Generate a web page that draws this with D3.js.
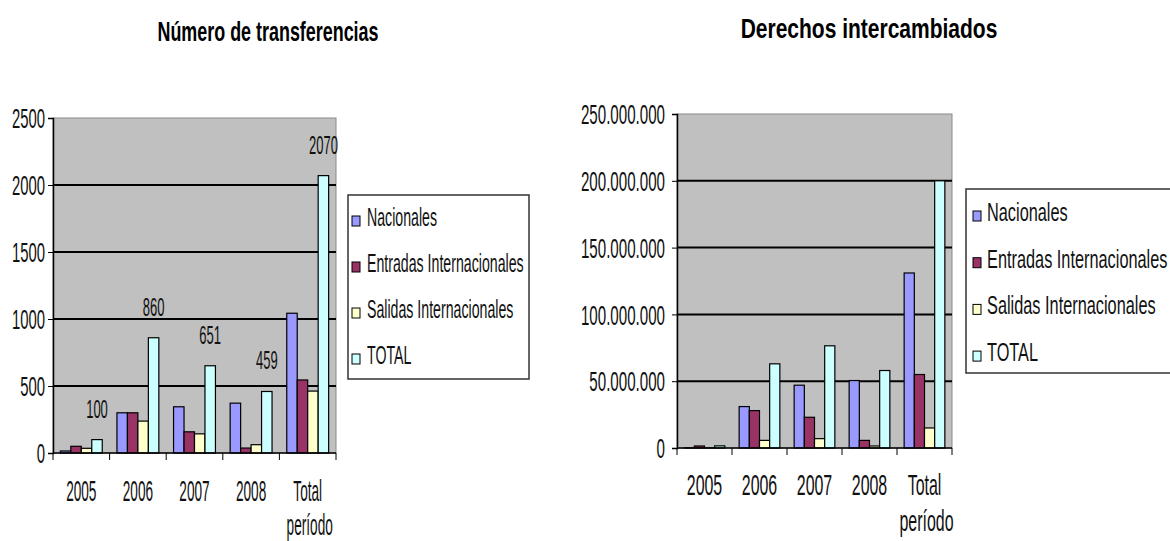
<!DOCTYPE html>
<html lang="es">
<head>
<meta charset="UTF-8">
<title>Transferencias</title>
<style>
  body { margin: 0; background: #fff; }
  text { font-family: "Liberation Sans", Arial, sans-serif; }
</style>
</head>
<body>
<script src="https://cdn.jsdelivr.net/npm/d3@7"></script>
<script>
// categorias y series
var categorias = ["2005", "2006", "2007", "2008", "Total período"];
var series = ["Nacionales", "Entradas Internacionales", "Salidas Internacionales", "TOTAL"];
var colores = ["#9999ff", "#993366", "#ffffcc", "#ccffff"];

// Número de transferencias
var nacionales1 = [15, 300, 345, 372, 1043];
var entradas1 = [50, 300, 158, 37, 545];
var salidas1 = [35, 238, 143, 62, 462];
var total1 = [100, 860, 651, 459, 2070];
var ticks1 = [0, 500, 1000, 1500, 2000, 2500];

// Derechos intercambiados
var nacionales2 = [100000, 31000000, 47000000, 50500000, 131000000];
var entradas2 = [1500000, 28000000, 23000000, 5700000, 55000000];
var salidas2 = [100000, 5700000, 7000000, 1500000, 15000000];
var total2 = [1600000, 63000000, 76500000, 58000000, 200000000];
var ticks2 = [0, 50000000, 100000000, 150000000, 200000000, 250000000];

var svg = d3.select("body").append("svg")
  .attr("width", 1170).attr("height", 541);

var fmtMiles = function(d) {
  return d3.format(",")(d).replace(/,/g, ".");
};

// texto estrechado (la fuente original es alta y estrecha)
function texto(padre, x, y, txt, size, sx, anchor) {
  return padre.append("text")
    .attr("transform", "translate(" + x + "," + y + ") scale(" + sx + ",1)")
    .attr("text-anchor", anchor || "start")
    .attr("font-size", size).attr("fill", "#111")
    .text(txt);
}

function grafico(cfg) {
  var g = svg.append("g");
  var x = d3.scaleBand().domain(categorias).range([cfg.x0, cfg.x1]).paddingInner(0.26).paddingOuter(0.13);
  var xs = d3.scaleBand().domain(series).range([0, x.bandwidth()]);
  var y = d3.scaleLinear().domain([0, cfg.max]).range([cfg.y0, cfg.y1]);
  var bordes = d3.scaleBand().domain(categorias).range([cfg.x0, cfg.x1]);

  // titulo
  texto(g, cfg.tx, cfg.ty, cfg.titulo, 28, cfg.tsx, "middle").attr("font-weight", "bold").attr("fill", "#000");

  // fondo
  g.append("rect").attr("x", cfg.x0).attr("y", cfg.y1)
    .attr("width", cfg.x1 - cfg.x0).attr("height", cfg.y0 - cfg.y1)
    .attr("fill", "#c0c0c0").attr("stroke", "#8a8a8a").attr("stroke-width", 1);

  // lineas de rejilla
  g.selectAll(".grid").data(cfg.ticks.slice(1, -1)).enter().append("line")
    .attr("x1", cfg.x0).attr("x2", cfg.x1)
    .attr("y1", function(d) { return y(d); }).attr("y2", function(d) { return y(d); })
    .attr("stroke", "#000").attr("stroke-width", 2);

  // barras
  var datos = [];
  cfg.valores.forEach(function(serie, si) {
    serie.forEach(function(v, ci) {
      datos.push({ cat: categorias[ci], serie: series[si], v: v, color: colores[si] });
    });
  });
  g.selectAll(".bar").data(datos).enter().append("rect")
    .attr("x", function(d) { return x(d.cat) + xs(d.serie); })
    .attr("y", function(d) { return y(d.v); })
    .attr("width", xs.bandwidth())
    .attr("height", function(d) { return cfg.y0 - y(d.v); })
    .attr("fill", function(d) { return d.color; })
    .attr("stroke", "#000").attr("stroke-width", 1.2);

  // etiquetas de datos
  if (cfg.etiquetas) {
    cfg.valores[3].forEach(function(d, i) {
      texto(g, x(categorias[i]) + xs("TOTAL") + xs.bandwidth() / 2, y(d) - 22, d, 26, 0.5, "middle");
    });
  }

  // eje y
  var ejeY = g.append("g").attr("transform", "translate(" + cfg.x0 + ",0)")
    .call(d3.axisLeft(y).tickValues(cfg.ticks).tickSize(5).tickFormat(cfg.fmt));
  ejeY.select(".domain").attr("stroke", "#000").attr("stroke-width", 1.5);
  ejeY.selectAll("text").attr("font-size", 27).attr("fill", "#111")
    .attr("x", -cfg.yoff / cfg.ysx).attr("dy", "0.36em")
    .attr("transform", "scale(" + cfg.ysx + ",1)");

  // eje x
  var ejeX = g.append("g").attr("transform", "translate(0," + cfg.y0 + ")");
  ejeX.append("line").attr("x1", cfg.x0).attr("x2", cfg.x1).attr("stroke", "#000").attr("stroke-width", 1.5);
  ejeX.selectAll(".tk").data(categorias.concat(["fin"])).enter().append("line")
    .attr("x1", function(d) { return d === "fin" ? cfg.x1 : bordes(d); })
    .attr("x2", function(d) { return d === "fin" ? cfg.x1 : bordes(d); })
    .attr("y1", 0).attr("y2", 7).attr("stroke", "#000");
  categorias.forEach(function(d) {
    var t = texto(ejeX, bordes(d) + bordes.bandwidth() / 2, cfg.ly, "", 29, cfg.xsx, "middle");
    d.split(" ").forEach(function(p, i) {
      t.append("tspan").attr("x", i ? 2 / cfg.xsx : 0).attr("dy", i ? cfg.ldy : 0).text(p);
    });
  });

  // leyenda
  var ley = g.append("g").attr("transform", "translate(" + cfg.lx + "," + cfg.ly0 + ")");
  ley.append("rect").attr("width", cfg.lw).attr("height", cfg.lh)
    .attr("fill", "#fff").attr("stroke", "#333").attr("stroke-width", 1.5);
  series.forEach(function(d, i) {
    var yy = cfg.lb + i * cfg.lstep;
    ley.append("rect").attr("x", cfg.sw).attr("y", yy - 10).attr("width", 8).attr("height", 10)
      .attr("fill", colores[i]).attr("stroke", "#000");
    texto(ley, cfg.tw, yy, d, 26, cfg.lsx);
  });
}

grafico({
  titulo: "Número de transferencias", tx: 268, ty: 41, tsx: 0.64,
  x0: 53, x1: 336, y0: 453, y1: 118, max: 2500, ticks: ticks1,
  ysx: 0.55, yoff: 8, xsx: 0.47,
  valores: [nacionales1, entradas1, salidas1, total1],
  fmt: d3.format("d"), etiquetas: true, ly: 48, ldy: 34,
  lx: 348, ly0: 195, lw: 181, lh: 184, lb: 31, lstep: 46, sw: 4, tw: 19, lsx: 0.545
});

grafico({
  titulo: "Derechos intercambiados", tx: 869, ty: 38, tsx: 0.75,
  x0: 677, x1: 952, y0: 448, y1: 114, max: 250000000, ticks: ticks2,
  ysx: 0.56, yoff: 12, xsx: 0.55,
  valores: [nacionales2, entradas2, salidas2, total2],
  fmt: fmtMiles, etiquetas: false, ly: 47, ldy: 36,
  lx: 966, ly0: 189, lw: 230, lh: 184, lb: 32, lstep: 46.7, sw: 7, tw: 21, lsx: 0.628
});
</script>
</body>
</html>
